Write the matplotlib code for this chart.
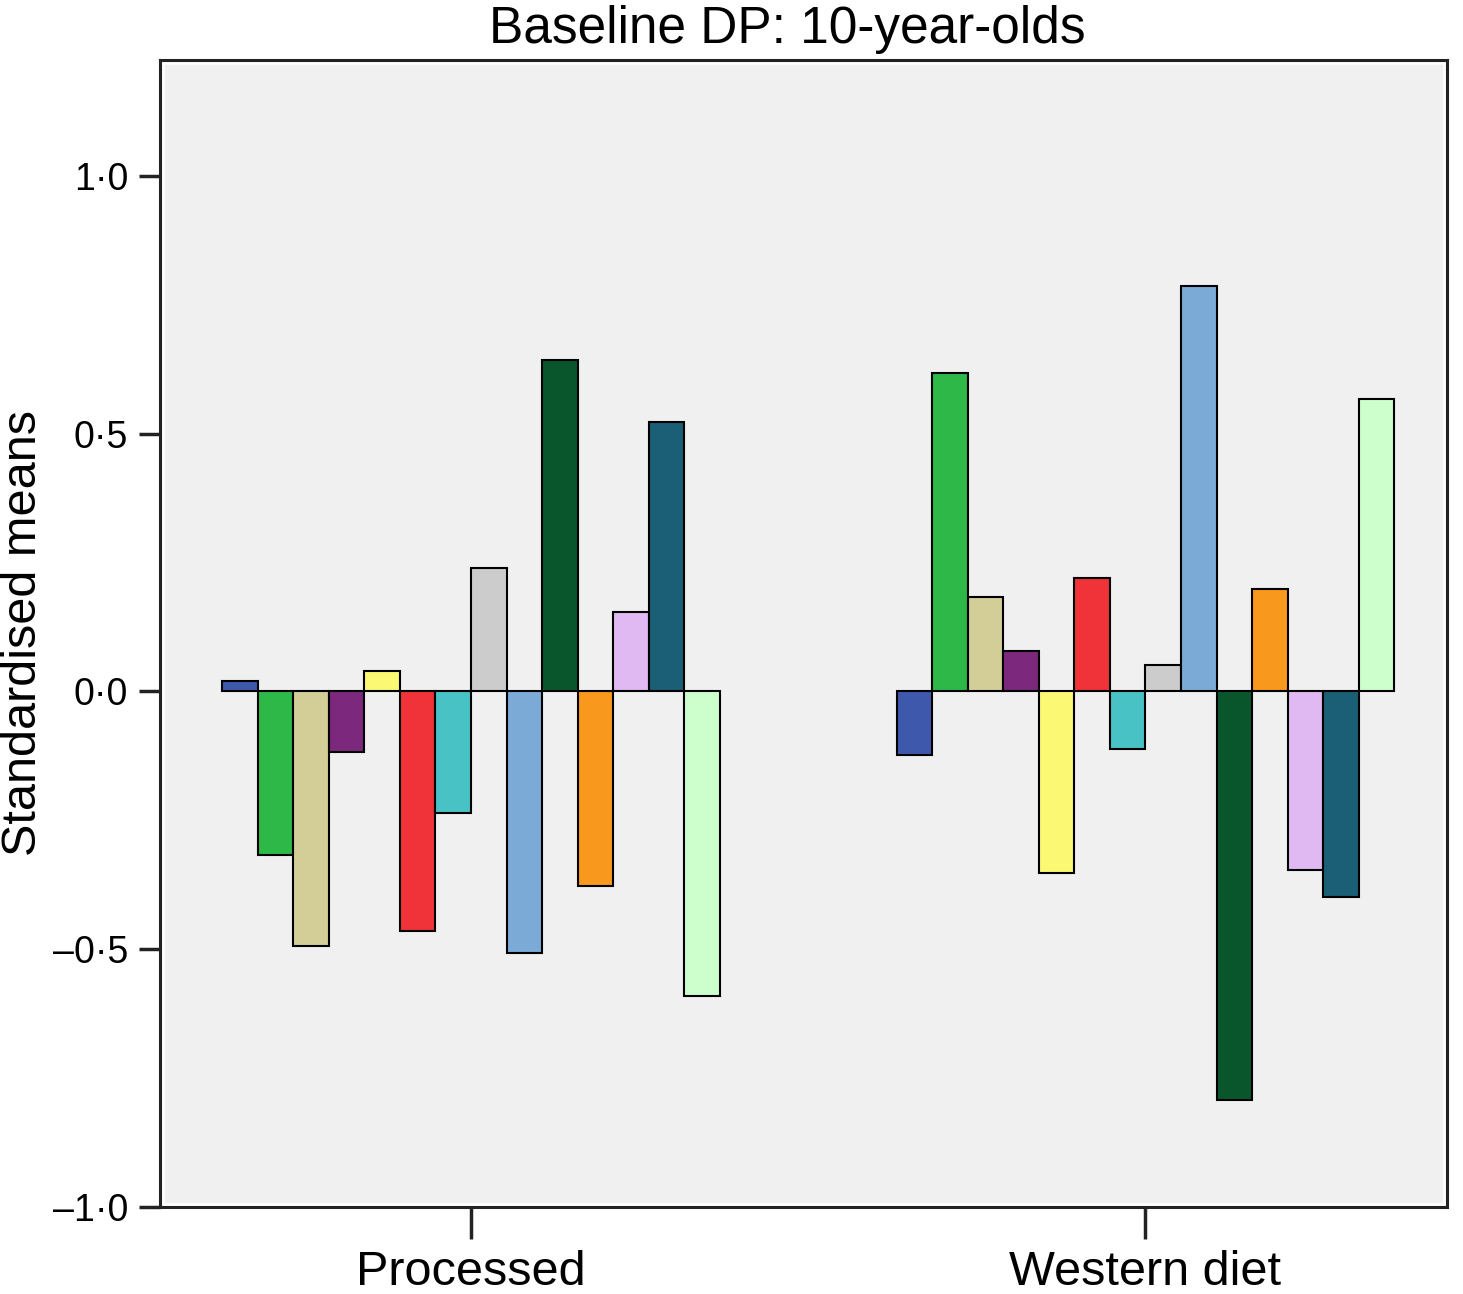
import matplotlib
matplotlib.use("Agg")
import matplotlib.pyplot as plt
from matplotlib.patches import Rectangle
import numpy as np

plt.rcParams['font.family'] = ['Liberation Sans', 'DejaVu Sans']

title = "Baseline DP: 10-year-olds"
ylabel = "Standardised means"
categories = ["Processed", "Western diet"]
processed = [0.020, -0.318, -0.493, -0.118, 0.039, -0.464, -0.235,
             0.239, -0.507, 0.643, -0.377, 0.155, 0.522, -0.590]
western = [-0.124, 0.617, 0.184, 0.078, -0.353, 0.221, -0.111,
           0.052, 0.786, -0.792, 0.198, -0.346, -0.398, 0.567]
yticks = [-1.0, -0.5, 0.0, 0.5, 1.0]
ytick_labels = ["\u20131\u00b70", "\u20130\u00b75", "0\u00b70", "0\u00b75", "1\u00b70"]
colors = ["#3E58AC", "#2EB848", "#D3CE97", "#7C287D", "#FBF873", "#EF3338",
          "#48C2C5", "#CCCCCC", "#7AAAD5", "#0A562C", "#F8981D", "#E0B8F2",
          "#1A5F76", "#CCFFCC"]

W, H = 1463, 1294
fig = plt.figure(figsize=(W / 100, H / 100), dpi=100)
ax = fig.add_axes([160 / W, 1 - 1207 / H, (1447 - 160) / W, (1207 - 60) / H])
ax.set_facecolor("#F0F0F0")

# thin white inner border inside the frame
aw, ah = 1447 - 160, 1207 - 60
ax.add_patch(Rectangle((3 / aw, 3 / ah), 1 - 6 / aw, 1 - 6 / ah,
                       transform=ax.transAxes, fill=False, edgecolor="white",
                       linewidth=1.8, zorder=1))

data = np.array([processed, western])
n = data.shape[1]
centers = np.arange(len(categories))
group_w = 0.738
bw = group_w / n
for i in range(n):
    ax.bar(centers + (i - (n - 1) / 2) * bw, data[:, i], width=bw,
           color=colors[i], edgecolor="black", linewidth=1.5, zorder=3)

ax.set_xlim(-0.461, 1.447)
ax.set_ylim(-1.0, 1.225)
ax.set_yticks(yticks)
ax.set_yticklabels(ytick_labels, fontsize=27)
ax.set_xticks(centers)
ax.set_xticklabels(categories, fontsize=35)
ax.tick_params(axis="y", length=15, width=2.5, pad=8, color="#222222")
ax.tick_params(axis="x", length=23, width=2.5, pad=8, color="#222222")
for s in ax.spines.values():
    s.set_linewidth(2.2)
    s.set_color("#222222")

ax.set_ylabel(ylabel, fontsize=35, labelpad=5)
ax.set_title(title, fontsize=37, pad=12, x=(787 - 160) / aw)

fig.savefig("out.png", dpi=100)
